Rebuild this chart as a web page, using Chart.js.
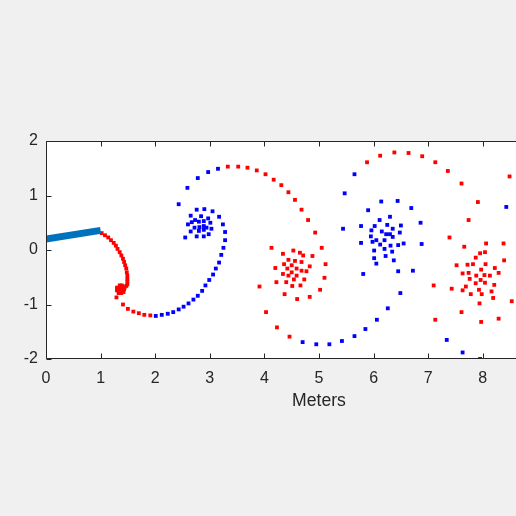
<!DOCTYPE html>
<html lang="en">
<head>
    <meta charset="UTF-8">
    <title>Meters</title>
    <script src="https://cdn.jsdelivr.net/npm/chart.js"></script>
    <style>
        body {
            margin: 0;
            background: #f0f0f0;
            overflow: hidden;
        }
        canvas {
            display: block;
        }
    </style>
</head>
<body>
    <!-- the axes run past the right edge of the window, as in the original figure -->
    <canvas id="plot" width="640" height="516"></canvas>

    <script>
        // thick blue segment at the start
        const stemX = [0, 1];
        const stemY = [0.2, 0.36];

        // red markers
        const redX = [
            1.02, 1.08, 1.14, 1.19, 1.24, 1.28, 1.31, 1.35, 1.38, 1.41, 1.43, 1.45, 1.47, 1.48, 1.49, 1.49, 1.49, 1.49, 1.47, 1.44,
            1.39, 1.35, 1.30, 1.30, 1.33, 1.38, 1.42, 1.43, 1.41, 1.36, 1.33, 1.33, 1.37, 1.40, 1.39, 1.36,
            1.29, 1.41, 1.50, 1.60, 1.70, 1.80, 1.91,
            3.33, 3.52, 3.69, 3.86, 4.02, 4.17, 4.31, 4.44, 4.56, 4.68, 4.80, 4.93, 5.05, 5.12, 5.10, 5.02, 4.83,
            4.13, 4.53, 4.65, 4.34, 4.71, 4.88, 4.44, 4.56, 4.68, 4.36, 4.50, 4.20, 4.42, 4.59, 4.83, 4.68, 4.77, 4.50, 4.34, 4.44,
            4.59, 4.54, 4.73, 4.22, 4.40, 4.51, 4.66, 4.37, 4.60,
            3.91, 4.03, 4.23, 4.46,
            5.88, 6.12, 6.38, 6.64, 6.89, 7.13, 7.36, 7.61, 7.91, 7.74, 7.39, 7.10, 7.13, 8.49,
            7.66, 8.06, 8.38, 7.95, 8.04, 7.87, 8.39, 7.52, 7.72, 7.82, 8.05, 8.22, 7.97, 7.63, 7.74, 8.29, 7.88, 8.03,
            8.13, 7.76, 7.96, 7.87, 8.04, 7.69, 8.21, 7.43, 7.63, 7.93, 8.16, 7.78, 7.98, 8.19, 8.53, 7.94, 7.61, 8.29, 7.97
        ];
        const redY = [
            0.31, 0.27, 0.23, 0.18, 0.13, 0.08, 0.02, -0.04, -0.10, -0.16, -0.22, -0.28, -0.34, -0.41, -0.47, -0.53, -0.58, -0.63, -0.66, -0.69,
            -0.65, -0.65, -0.69, -0.74, -0.79, -0.79, -0.77, -0.72, -0.68, -0.67, -0.70, -0.75, -0.76, -0.74, -0.70, -0.71,
            -0.87, -1.00, -1.08, -1.13, -1.16, -1.19, -1.20,
            1.53, 1.53, 1.51, 1.46, 1.39, 1.29, 1.19, 1.06, 0.92, 0.74, 0.55, 0.32, 0.04, -0.26, -0.51, -0.73, -0.86,
            0.04, -0.01, -0.05, -0.07, -0.10, -0.11, -0.18, -0.20, -0.22, -0.26, -0.28, -0.33, -0.34, -0.34, -0.30, -0.38, -0.39, -0.41, -0.44, -0.47,
            -0.47, -0.54, -0.54, -0.59, -0.59, -0.66, -0.65, -0.81, -0.90,
            -0.67, -1.14, -1.42, -1.59,
            1.61, 1.73, 1.79, 1.78, 1.72, 1.61, 1.45, 1.22, 0.88, 0.55, 0.23, -0.65, -1.28, 1.35,
            0.06, 0.12, 0.12, -0.06, -0.04, -0.14, -0.19, -0.28, -0.27, -0.26, -0.26, -0.33, -0.36, -0.43, -0.42, -0.42, -0.47, -0.46,
            -0.47, -0.53, -0.55, -0.61, -0.60, -0.67, -0.64, -0.71, -0.74, -0.73, -0.76, -0.81, -0.81, -0.88, -0.94, -0.98, -1.14, -1.26, -1.32
        ];

        // blue markers
        const blueX = [
            2.01, 2.12, 2.23, 2.33, 2.43, 2.52, 2.61, 2.70, 2.78, 2.86, 2.92, 2.99, 3.06, 3.11, 3.17,
            2.43, 2.76, 2.90, 3.05, 2.65, 2.84, 3.17, 2.73, 2.97, 2.67, 2.80, 2.89, 2.60, 3.01, 3.24, 2.72,
            2.81, 2.89, 2.94, 3.03, 2.65, 2.80, 2.89, 3.28, 2.98, 2.55, 2.76, 2.89, 3.28, 3.25, 3.21,
            2.59, 2.78, 2.97, 3.15,
            4.70, 4.95, 5.19, 5.42, 5.65, 5.85, 6.06, 6.26, 6.49,
            5.47, 5.65,
            6.14, 6.44, 6.69, 5.90, 6.30, 6.11, 6.86, 5.77, 6.02, 6.25, 6.50, 5.44, 5.96, 6.35, 6.15, 6.48, 5.95, 6.23,
            6.30, 6.35, 6.05, 6.20, 5.98, 5.77, 6.12, 6.31, 6.45, 6.55, 6.88, 6.01, 6.20, 6.34, 6.01, 6.22, 6.37, 6.05,
            6.45, 6.72, 5.81,
            8.43, 7.34, 7.63, 7.95
        ];
        const blueY = [
            -1.21, -1.19, -1.17, -1.14, -1.09, -1.04, -0.98, -0.91, -0.84, -0.75, -0.65, -0.55, -0.45, -0.34, -0.23,
            0.84, 0.74, 0.75, 0.71, 0.63, 0.62, 0.61, 0.55, 0.58, 0.51, 0.52, 0.53, 0.47, 0.50, 0.47, 0.41,
            0.42, 0.44, 0.41, 0.39, 0.34, 0.35, 0.37, 0.33, 0.29, 0.23, 0.25, 0.25, 0.18, 0.04, -0.09,
            1.14, 1.32, 1.43, 1.49,
            -1.69, -1.73, -1.73, -1.67, -1.58, -1.45, -1.28, -1.07, -0.79,
            1.04, 1.39,
            0.89, 0.90, 0.77, 0.73, 0.61, 0.55, 0.50, 0.44, 0.44, 0.46, 0.45, 0.39, 0.36, 0.39, 0.34, 0.32, 0.25, 0.29,
            0.29, 0.24, 0.18, 0.18, 0.15, 0.13, 0.10, 0.08, 0.09, 0.12, 0.11, -0.01, 0.02, -0.03, -0.15, -0.11, -0.19, -0.25,
            -0.39, -0.38, -0.44,
            0.79, -1.65, -1.88, -2.00
        ];

        const xTicks = [0, 1, 2, 3, 4, 5, 6, 7, 8, 9, 10];
        const yTicks = [-2, -1, 0, 1, 2];

        const toPoints = (xs, ys) => xs.map((v, i) => ({x: v, y: ys[i]}));

        const axisColor = '#262626';
        const fontFamily = '"Liberation Sans", Arial, sans-serif';

        // white axes box, frame and inward ticks like the original figure
        const frame = {
            id: 'frame',
            beforeDatasetsDraw(chart) {
                const {ctx, chartArea: a} = chart;
                ctx.save();
                ctx.fillStyle = '#ffffff';
                ctx.fillRect(a.left, a.top, a.right - a.left, a.bottom - a.top);
                ctx.restore();
            },
            afterDatasetsDraw(chart) {
                const {ctx, chartArea: a, scales} = chart;
                const l = Math.round(a.left) + 0.5;
                const r = Math.round(a.right) - 0.5;
                const t = Math.round(a.top) + 0.5;
                const b = Math.round(a.bottom) - 0.5;
                ctx.save();
                ctx.strokeStyle = axisColor;
                ctx.lineWidth = 1;
                ctx.beginPath();
                ctx.rect(l, t, r - l, b - t);
                xTicks.forEach(v => {
                    const p = Math.round(scales.x.getPixelForValue(v)) + 0.5;
                    ctx.moveTo(p, b);
                    ctx.lineTo(p, b - 5);
                    ctx.moveTo(p, t);
                    ctx.lineTo(p, t + 5);
                });
                yTicks.forEach(v => {
                    const p = Math.round(scales.y.getPixelForValue(v)) + 0.5;
                    ctx.moveTo(l, p);
                    ctx.lineTo(l + 5, p);
                    ctx.moveTo(r, p);
                    ctx.lineTo(r - 5, p);
                });
                ctx.stroke();
                ctx.restore();
            }
        };

        const markerStyle = {
            showLine: false,
            pointStyle: 'rect',
            pointRadius: 2.7,
            pointBorderWidth: 0
        };

        new Chart(document.getElementById('plot'), {
            type: 'scatter',
            data: {
                datasets: [
                    {
                        data: toPoints(stemX, stemY),
                        showLine: true,
                        borderColor: '#0072bd',
                        borderWidth: 7,
                        borderCapStyle: 'butt',
                        pointRadius: 0
                    },
                    Object.assign({data: toPoints(redX, redY), backgroundColor: '#ff0000'}, markerStyle),
                    Object.assign({data: toPoints(blueX, blueY), backgroundColor: '#0000ff'}, markerStyle)
                ]
            },
            options: {
                responsive: false,
                animation: false,
                layout: {
                    padding: {left: 0, top: 141, right: 48, bottom: 104}
                },
                plugins: {
                    legend: {display: false},
                    tooltip: {enabled: false}
                },
                scales: {
                    x: {
                        type: 'linear',
                        min: 0,
                        max: 10,
                        afterFit: s => { s.height = 53; },
                        grid: {display: false, drawTicks: false},
                        border: {display: false},
                        ticks: {
                            stepSize: 1,
                            autoSkip: false,
                            maxRotation: 0,
                            padding: 10,
                            color: axisColor,
                            font: {family: fontFamily, size: 16}
                        },
                        title: {
                            display: true,
                            text: 'Meters',
                            color: axisColor,
                            padding: 0,
                            font: {family: fontFamily, size: 17.6}
                        }
                    },
                    y: {
                        type: 'linear',
                        min: -2,
                        max: 2,
                        afterFit: s => { s.width = 46; },
                        grid: {display: false, drawTicks: false},
                        border: {display: false},
                        ticks: {
                            stepSize: 1,
                            padding: 8,
                            color: axisColor,
                            font: {family: fontFamily, size: 16}
                        }
                    }
                }
            },
            plugins: [frame]
        });
    </script>
</body>
</html>
